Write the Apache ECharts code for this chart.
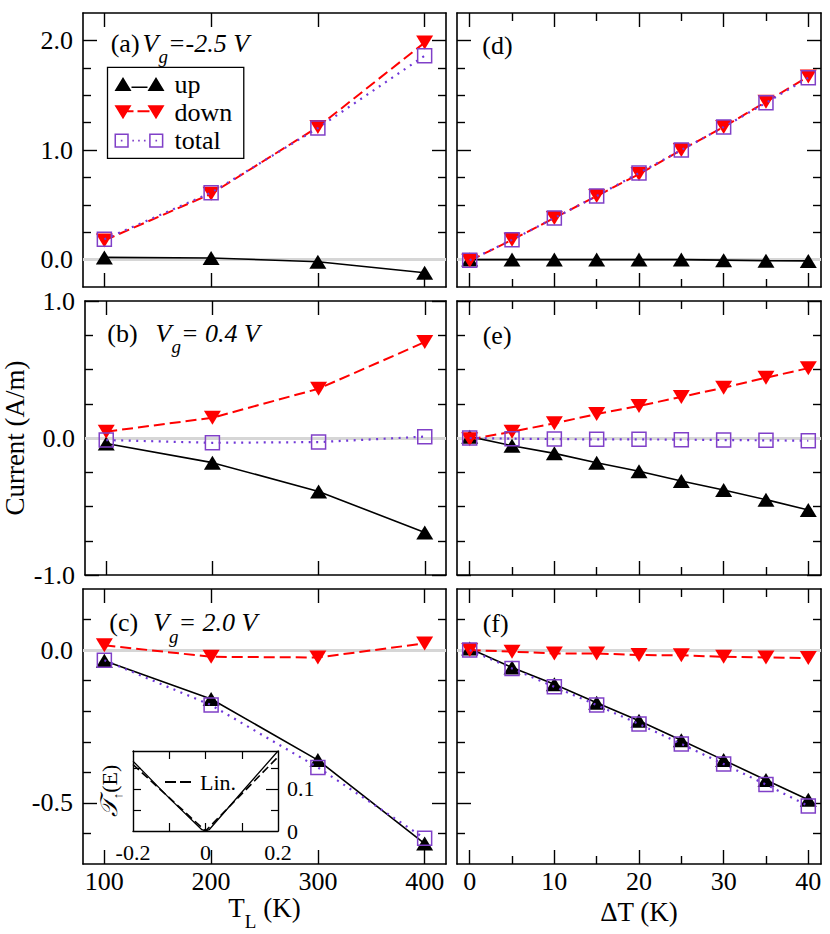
<!DOCTYPE html>
<html><head><meta charset="utf-8">
<script src="https://cdn.jsdelivr.net/npm/echarts@6/dist/echarts.min.js"></script>
<style>html,body{margin:0;padding:0;background:#fff}#c{width:830px;height:934px}</style>
</head><body><div id="c"></div>
<script>
// ---------- data ----------
const tempsTL = [100, 200, 300, 400];
const deltaT = [0, 5, 10, 15, 20, 25, 30, 35, 40];

const aUp    = [0.02, 0.015, -0.02, -0.12];
const aDown  = [0.175, 0.60, 1.21, 1.98];
const aTotal = [0.185, 0.61, 1.20, 1.86];

const bUp    = [-0.04, -0.18, -0.39, -0.69];
const bDown  = [0.046, 0.148, 0.36, 0.70];
const bTotal = [-0.015, -0.035, -0.03, 0.01];

const cUp    = [-0.035, -0.16, -0.36, -0.633];
const cDown  = [0.016, -0.022, -0.024, 0.022];
const cTotal = [-0.033, -0.18, -0.384, -0.616];

const dUp    = [0, 0, 0, 0, 0, 0, -0.005, -0.01, -0.012];
const dDown  = [-0.01, 0.18, 0.38, 0.58, 0.78, 1.00, 1.21, 1.44, 1.67];
const dTotal = [-0.005, 0.18, 0.38, 0.58, 0.79, 1.00, 1.21, 1.43, 1.66];

const eUp    = [0.01, -0.056, -0.112, -0.18, -0.243, -0.314, -0.38, -0.45, -0.525];
const eDown  = [-0.01, 0.046, 0.107, 0.175, 0.234, 0.30, 0.367, 0.44, 0.51];
const eTotal = [0, -0.005, -0.008, -0.01, -0.01, -0.012, -0.015, -0.017, -0.02];

const fUp    = [0.005, -0.057, -0.112, -0.172, -0.231, -0.295, -0.36, -0.425, -0.49];
const fDown  = [0, -0.005, -0.011, -0.011, -0.016, -0.017, -0.022, -0.024, -0.026];
const fTotal = [0, -0.06, -0.12, -0.18, -0.242, -0.307, -0.373, -0.44, -0.51];

const insetE    = [-0.2, -0.1, -0.01, 0, 0.01, 0.1, 0.2];
const insetT    = [0.166, 0.078, 0.003, 0, 0.003, 0.092, 0.19];
const insetLinE = [-0.2, 0, 0.2];
const insetLin  = [0.158, 0, 0.176];

// tick / label values
const xTicksTL = [100, 200, 300, 400];
const xTicksDT = [0, 10, 20, 30, 40];
const xMinorDT = [5, 15, 25, 35];
const yTicksA = [0, 1, 2];
const yMinorA = [0.25, 0.5, 0.75, 1.25, 1.5, 1.75];
const yTicksB = [-1, 0, 1];
const yMinorB = [-0.75, -0.5, -0.25, 0.25, 0.5, 0.75];
const yTicksC = [-0.5, 0];
const yMinorC = [-0.6, -0.4, -0.3, -0.2, -0.1, 0.1];
const insetXTicks = [-0.1, 0, 0.1];
const insetXLabels = [-0.2, 0, 0.2];
const insetYLabels = [0, 0.1];
const insetYMinor = [0.05, 0.15];

const panelLabels = ['(a)', '(b)', '(c)', '(d)', '(e)', '(f)'];
const gateText = ['=-2.5 V', '= 0.4 V', '= 2.0 V'];

// ---------- layout / style ----------
const SERIF = 'Liberation Serif';
const RED = '#ff0000', PURPLE = '#8040c8', PURPLE_DOT = '#7038d8';
const COLS = [{left: 83, width: 363}, {left: 457, width: 364}];
const ROWS = [{top: 13, height: 274}, {top: 301, height: 274}, {top: 589, height: 275}];
const X_CFG = [
  {min: 80, max: 420, major: xTicksTL, minor: []},
  {min: -1.5, max: 41.5, major: xTicksDT, minor: xMinorDT}
];
const Y_CFG = [
  {min: -0.25, max: 2.25, major: yTicksA, minor: yMinorA},
  {min: -1, max: 1, major: yTicksB, minor: yMinorB},
  {min: -0.7, max: 0.2, major: yTicksC, minor: yMinorC}
];
const PANEL_DATA = [
  [tempsTL, aUp, aDown, aTotal], [tempsTL, bUp, bDown, bTotal], [tempsTL, cUp, cDown, cTotal],
  [deltaT, dUp, dDown, dTotal], [deltaT, eUp, eDown, eTotal], [deltaT, fUp, fDown, fTotal]
];
// [left, vertical centre]
const LABEL_POS = [[110.7, 43], [107.3, 333.3], [109.3, 622.5], [482.3, 45], [482.7, 335], [482.7, 623.3]];
const LABEL_GAP = [3, 18, 15];
const LH = 46;

const BLACK = '#000';
const lineW = 1.6;
const subRich = {
  r: {fontFamily: SERIF, fontSize: 26, lineHeight: LH, color: BLACK},
  v: {fontFamily: SERIF, fontStyle: 'italic', fontSize: 26, lineHeight: LH, color: BLACK},
  s: {fontFamily: SERIF, fontStyle: 'italic', fontSize: 19, lineHeight: 8, verticalAlign: 'bottom', color: BLACK},
  g3: {width: 3}, g18: {width: 18}, g15: {width: 15}
};

const grids = [], xAxes = [], yAxes = [], series = [], titles = [];

for (let gi = 0; gi < 6; gi++) {
  const col = Math.floor(gi / 3), row = gi % 3;
  grids.push({left: COLS[col].left, width: COLS[col].width, top: ROWS[row].top, height: ROWS[row].height, show: false});
  const xc = X_CFG[col], yc = Y_CFG[row];
  const labelStyle = {fontFamily: SERIF, fontSize: 26, color: BLACK};
  const mkX = (pos, vals, len, withLine, withLabel) => ({
    type: 'value', gridIndex: gi, position: pos, min: xc.min, max: xc.max,
    axisLine: {show: withLine, onZero: false, lineStyle: {color: BLACK, width: lineW}},
    axisTick: {show: vals.length > 0, inside: true, length: len, customValues: vals, lineStyle: {color: BLACK, width: 1.4}},
    axisLabel: withLabel ? Object.assign({show: true, customValues: vals, margin: 4}, labelStyle) : {show: false},
    splitLine: {show: false}
  });
  const mkY = (pos, vals, len, withLine, withLabel) => ({
    type: 'value', gridIndex: gi, position: pos, min: yc.min, max: yc.max,
    axisLine: {show: withLine, onZero: false, lineStyle: {color: BLACK, width: lineW}},
    axisTick: {show: vals.length > 0, inside: true, length: len, customValues: vals, lineStyle: {color: BLACK, width: 1.4}},
    axisLabel: withLabel ? Object.assign({show: true, customValues: vals, margin: 10, formatter: v => v.toFixed(1)}, labelStyle) : {show: false},
    splitLine: {show: false}
  });
  const xb = mkX('bottom', xc.major, 14, true, row === 2);
  if (gi === 2) Object.assign(xb, {name: '{m|T}{s|L}{m| (K)}', nameLocation: 'middle', nameGap: 11,
    nameTextStyle: {rich: {m: {fontFamily: SERIF, fontSize: 27, lineHeight: LH, color: BLACK},
      s: {fontFamily: SERIF, fontSize: 19, lineHeight: 6, verticalAlign: 'bottom', color: BLACK}}}});
  if (gi === 5) Object.assign(xb, {name: 'ΔT (K)', nameLocation: 'middle', nameGap: 17,
    nameTextStyle: {fontFamily: SERIF, fontSize: 27, color: BLACK, lineHeight: 34}});
  xAxes.push(xb, mkX('bottom', xc.minor, 8, false, false), mkX('top', xc.major, 14, true, false), mkX('top', xc.minor, 8, false, false));
  const yl = mkY('left', yc.major, 14, true, col === 0);
  if (gi === 1) Object.assign(yl, {name: 'Current (A/m)', nameLocation: 'middle', nameRotate: 90, nameGap: 57,
    nameTextStyle: {fontFamily: SERIF, fontSize: 27, color: BLACK}});
  yAxes.push(yl, mkY('left', yc.minor, 8, false, false), mkY('right', yc.major, 14, true, false), mkY('right', yc.minor, 8, false, false));

  const [xs, up, down, total] = PANEL_DATA[gi];
  const zip = arr => xs.map((x, i) => [x, arr[i]]);
  const base = {type: 'line', xAxisIndex: gi * 4, yAxisIndex: gi * 4, showAllSymbol: true, animation: false, silent: true};
  series.push(Object.assign({}, base, {
    name: 'up', data: zip(up), symbol: 'triangle', symbolSize: [17, 14], z: 3,
    lineStyle: {color: BLACK, width: 1.6}, itemStyle: {color: BLACK},
    markLine: {z: 1, silent: true, symbol: ['none', 'none'], label: {show: false}, animation: false,
      lineStyle: {color: '#d6d6d6', width: 3, type: 'solid'}, emphasis: {disabled: true}, data: [{yAxis: 0}]}
  }));
  series.push(Object.assign({}, base, {
    name: 'down', data: zip(down), symbol: 'triangle', symbolRotate: 180, symbolSize: [17, 14], z: 4,
    lineStyle: {color: RED, width: 2, type: [11, 5]}, itemStyle: {color: RED}
  }));
  series.push(Object.assign({}, base, {
    name: 'total', data: zip(total), symbol: 'rect', symbolSize: 14, z: 5,
    lineStyle: {color: PURPLE_DOT, width: 2.2, type: [2, 5.5]},
    itemStyle: {color: 'rgba(0,0,0,0)', borderColor: PURPLE, borderWidth: 1.5}
  }));

  // panel label
  let txt = '{r|' + panelLabels[gi] + '}';
  if (col === 0) txt += '{g' + LABEL_GAP[row] + '| }{v|V}{s|g}{v|' + gateText[row] + '}';
  titles.push({text: txt, left: LABEL_POS[gi][0], top: LABEL_POS[gi][1] - LH / 2, padding: 0, z: 20,
    textStyle: {rich: subRich, fontFamily: SERIF, fontSize: 26, fontWeight: 'normal', color: BLACK}});
}

// ---------- inset in panel (c) ----------
grids.push({left: 133, top: 751, width: 145, height: 80, show: true, backgroundColor: '#fff', borderWidth: 0, z: 10});
const IX = {min: -0.2, max: 0.2}, IY = {min: 0, max: 0.19};
const insetLine = {show: true, onZero: false, lineStyle: {color: BLACK, width: 1.4}};
const insetTickStyle = {color: BLACK, width: 1.2};
xAxes.push({
  type: 'value', gridIndex: 6, position: 'bottom', min: IX.min, max: IX.max, z: 12,
  axisLine: insetLine, splitLine: {show: false},
  axisTick: {show: true, inside: true, length: 8, customValues: insetXTicks, lineStyle: insetTickStyle},
  axisLabel: {show: true, customValues: insetXLabels, margin: 10, fontFamily: SERIF, fontSize: 22, lineHeight: 22, color: BLACK,
    formatter: v => (Math.abs(v) < 1e-9 ? '0' : v.toFixed(1))}
}, {
  type: 'value', gridIndex: 6, position: 'top', min: IX.min, max: IX.max, z: 12,
  axisLine: insetLine, splitLine: {show: false},
  axisTick: {show: true, inside: true, length: 8, customValues: insetXTicks, lineStyle: insetTickStyle},
  axisLabel: {show: false}
});
yAxes.push({
  type: 'value', gridIndex: 6, position: 'right', min: IY.min, max: IY.max, z: 12,
  axisLine: insetLine, splitLine: {show: false},
  axisTick: {show: true, inside: true, length: 12, customValues: [0.1], lineStyle: insetTickStyle},
  axisLabel: {show: true, customValues: insetYLabels, margin: 9, fontFamily: SERIF, fontSize: 22, lineHeight: 20, color: BLACK,
    formatter: v => (Math.abs(v) < 1e-9 ? '0' : v.toFixed(1))}
}, {
  type: 'value', gridIndex: 6, position: 'right', min: IY.min, max: IY.max, z: 12,
  axisLine: {show: false, onZero: false}, splitLine: {show: false},
  axisTick: {show: true, inside: true, length: 7, customValues: insetYMinor, lineStyle: insetTickStyle},
  axisLabel: {show: false}
}, {
  type: 'value', gridIndex: 6, position: 'left', min: IY.min, max: IY.max, z: 12,
  axisLine: insetLine, splitLine: {show: false},
  axisTick: {show: true, inside: true, length: 8, customValues: [0.05, 0.1, 0.15], lineStyle: insetTickStyle},
  axisLabel: {show: false},
  name: '{t|𝒯}{s|↑}{n|(E)}', nameLocation: 'middle', nameRotate: 90, nameGap: 9,
  nameTextStyle: {rich: {
    t: {fontFamily: SERIF, fontStyle: 'italic', fontSize: 24, lineHeight: 30, color: BLACK},
    s: {fontFamily: SERIF, fontSize: 13, lineHeight: 4, verticalAlign: 'bottom', color: BLACK},
    n: {fontFamily: SERIF, fontSize: 22, lineHeight: 30, color: BLACK}}}
});
series.push({
  name: 'T(E)', type: 'line', xAxisIndex: 24, yAxisIndex: 24, z: 12, symbol: 'none', animation: false, silent: true,
  data: insetE.map((x, i) => [x, insetT[i]]), lineStyle: {color: BLACK, width: 1.3}
}, {
  name: 'Lin.', type: 'line', xAxisIndex: 24, yAxisIndex: 24, z: 13, symbol: 'none', animation: false, silent: true,
  data: insetLinE.map((x, i) => [x, insetLin[i]]), lineStyle: {color: BLACK, width: 1.6, type: [8, 4]}
});

// ---------- legend icons (an invisible zero-area point at the right widens the icon box) ----------
const ICON_UP = 'path://M0,15L8.5,1L17,15Z M33,15L41.5,1L50,15Z M17,10.5h16v1.5h-16Z M55,8L55,8Z';
const ICON_DOWN = 'path://M0,1L17,1L8.5,15Z M33,1L50,1L41.5,15Z M13,6h6v2h-6Z M23,6h12v2h-12Z M55,8L55,8Z';
const ICON_TOTAL = 'path://M1,1H15V15H1Z M2.5,2.5V13.5H13.5V2.5Z M35,1H49V15H35Z M36.5,2.5V13.5H47.5V2.5Z ' +
  'M7.2,7.2h1.6v1.6h-1.6Z M18.5,7.2h1.6v1.6h-1.6Z M24.2,7.2h1.6v1.6h-1.6Z M29.9,7.2h1.6v1.6h-1.6Z M41.2,7.2h1.6v1.6h-1.6Z M55,8L55,8Z';
const ICON_LIN = 'path://M0,0h11v2h-11Z M15,0h11v2h-11Z M30,1L30,1Z';

const option = {
  animation: false,
  backgroundColor: '#fff',
  textStyle: {fontFamily: SERIF},
  title: titles,
  grid: grids,
  xAxis: xAxes,
  yAxis: yAxes,
  legend: [{
    orient: 'vertical', left: 107.5, top: 67.3, padding: [3.7, 11.5, 4.7, 7], itemGap: 2.3,
    itemWidth: 55, itemHeight: 16, selectedMode: false,
    borderColor: BLACK, borderWidth: 1.3, backgroundColor: '#fff', z: 20,
    textStyle: {fontFamily: SERIF, fontSize: 26, color: BLACK, lineHeight: 26},
    data: [
      {name: 'up', icon: ICON_UP, itemStyle: {color: BLACK, borderWidth: 0}},
      {name: 'down', icon: ICON_DOWN, itemStyle: {color: RED, borderWidth: 0}},
      {name: 'total', icon: ICON_TOTAL, itemStyle: {color: PURPLE, borderWidth: 0}}
    ]
  }, {
    orient: 'horizontal', left: 165, top: 771, padding: 0, itemWidth: 30, itemHeight: 3.5,
    selectedMode: false, z: 20,
    textStyle: {fontFamily: SERIF, fontSize: 22, color: BLACK, lineHeight: 22},
    data: [{name: 'Lin.', icon: ICON_LIN, itemStyle: {color: BLACK, borderWidth: 0}}]
  }],
  series: series
};

const chart = echarts.init(document.getElementById('c'), null, {renderer: 'svg', width: 830, height: 934});
chart.setOption(option);
</script>
</body></html>
